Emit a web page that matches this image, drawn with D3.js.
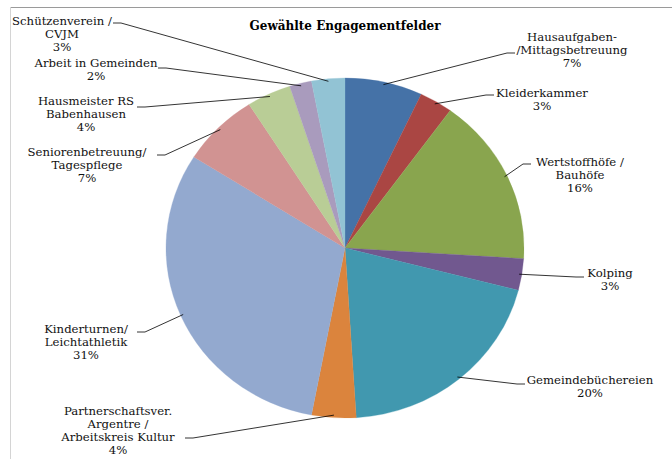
<!DOCTYPE html>
<html><head><meta charset="utf-8">
<script src="https://cdn.jsdelivr.net/npm/d3@7"></script>
<style>body{margin:0;background:#fff}svg{display:block}
text{font-family:"DejaVu Serif","Liberation Serif",serif}</style>
</head><body>
<svg id="c" width="672" height="459"></svg>
<script>
const title = "Gewählte Engagementfelder";
const categories = [
  ["Hausaufgaben-", "/Mittagsbetreuung"],
  ["Kleiderkammer"],
  ["Wertstoffhöfe /", "Bauhöfe"],
  ["Kolping"],
  ["Gemeindebüchereien"],
  ["Partnerschaftsver.", "Argentre /", "Arbeitskreis Kultur"],
  ["Kinderturnen/", "Leichtathletik"],
  ["Seniorenbetreuung/", "Tagespflege"],
  ["Hausmeister RS", "Babenhausen"],
  ["Arbeit in Gemeinden"],
  ["Schützenverein /", "CVJM"]
];
const values = [7, 3, 16, 3, 20, 4, 31, 7, 4, 2, 3];
const colors = ["#4572A7","#AA4643","#89A54E","#71588F","#4198AF","#DB843D","#93A9CF","#D19392","#B9CD96","#A99BBD","#92C3D4"];

// layout: label centre x, first baseline y, line spacing, leader-line end at label (x,y)
const labelLayout = [
  {x:572, y:41, dy:12.8, lx:515, ly:53},
  {x:542, y:97, dy:12.8, lx:494, ly:95},
  {x:580, y:166, dy:12.8, lx:531, ly:164},
  {x:610, y:277, dy:12.8, lx:584, ly:277},
  {x:590, y:384, dy:12.8, lx:525, ly:384},
  {x:118, y:415, dy:13, lx:185, ly:438},
  {x:86, y:333, dy:12.8, lx:137, ly:332},
  {x:87, y:156, dy:12.8, lx:157, ly:155},
  {x:86, y:105, dy:12.8, lx:137, ly:107},
  {x:96, y:67, dy:12.8, lx:158, ly:68},
  {x:62, y:25, dy:12.8, lx:113, ly:23}
];

const svg = d3.select("#c");
const W = 672, H = 459;
const cx = 345, cy = 248, ry = 170, rx = 179;
const sx = rx / ry;

svg.append("line").attr("x1",10).attr("x2",W).attr("y1",7.5).attr("y2",7.5).attr("stroke","#9a9a9a").attr("stroke-width",1);
svg.append("line").attr("x1",10.5).attr("x2",10.5).attr("y1",7).attr("y2",H).attr("stroke","#d4d4d4").attr("stroke-width",1);

svg.append("text").attr("x",345).attr("y",30).attr("text-anchor","middle")
  .style("font-weight","bold").style("font-size","12px")
  .attr("fill","#000").text(title);

const data = values.map((v,i)=>({v, i}));
const pie = d3.pie().value(d=>d.v).sort(null);
const arcs = pie(data);
const arc = d3.arc().innerRadius(0).outerRadius(ry);

const g = svg.append("g").attr("transform",`translate(${cx},${cy}) scale(${sx},1)`);
g.selectAll("path").data(arcs).join("path")
  .attr("d", arc)
  .attr("fill", d=>colors[d.data.i])
  .attr("stroke", d=>colors[d.data.i]).attr("stroke-width",0.3);

const fmt = d3.format(".0%");
const total = d3.sum(values);

arcs.forEach((a, k) => {
  const L = labelLayout[k];
  const mid = (a.startAngle + a.endAngle)/2;
  const px = cx + rx*0.985*Math.sin(mid);
  const py = cy - ry*0.985*Math.cos(mid);
  const stub = L.lx > cx ? -8 : 8;
  svg.append("polyline")
    .attr("points", `${px},${py} ${L.lx + stub},${L.ly} ${L.lx},${L.ly}`)
    .attr("fill","none").attr("stroke","#000").attr("stroke-width",0.8);
  const lines = categories[k].concat([fmt(values[k]/total)]);
  const t = svg.append("text").attr("text-anchor","middle")
    .style("font-size","11.7px").attr("fill","#111");
  lines.forEach((s, j) => {
    t.append("tspan").attr("x", L.x).attr("y", L.y + j*L.dy).text(s);
  });
});
</script>
</body></html>
